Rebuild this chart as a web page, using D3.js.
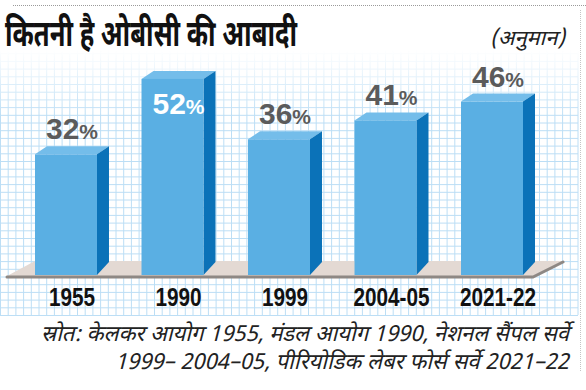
<!DOCTYPE html>
<html>
<head>
<meta charset="utf-8">
<script src="https://cdn.jsdelivr.net/npm/d3@7"></script>
<style>
  body { margin: 0; background: #fff; }
  svg { display: block; }
</style>
</head>
<body>
<div id="chart"></div>
<script>
// data
var categories = ["1955", "1990", "1999", "2004-05", "2021-22"];
var values = [32, 52, 36, 41, 46];
var title = "कितनी है ओबीसी की आबादी";
var note = "(अनुमान)";
var sourceLines = [
  "स्रोत: केलकर आयोग 1955, मंडल आयोग 1990, नेशनल सैंपल सर्वे",
  "1999– 2004–05, पीरियोडिक लेबर फोर्स सर्वे 2021–22"
];

var W = 586, H = 390;
var hindi = "'Noto Sans Devanagari', 'Noto Sans', 'DejaVu Sans', sans-serif";

var svg = d3.select("#chart")
  .append("svg")
  .attr("width", W)
  .attr("height", H);

var defs = svg.append("defs");
var grad = defs.append("linearGradient")
  .attr("id", "fade")
  .attr("x1", 0).attr("y1", 0).attr("x2", 0).attr("y2", 1);
grad.append("stop").attr("offset", "0").attr("stop-color", "#fff").attr("stop-opacity", 0);
grad.append("stop").attr("offset", "0.25").attr("stop-color", "#fff").attr("stop-opacity", 1);
grad.append("stop").attr("offset", "1").attr("stop-color", "#fff").attr("stop-opacity", 1);
defs.append("mask").attr("id", "gridMask")
  .append("rect")
  .attr("x", 0).attr("y", 50).attr("width", 580).attr("height", 266)
  .attr("fill", "url(#fade)");

// scales
var x = d3.scaleBand()
  .domain(categories)
  .range([35, 523])
  .paddingInner(0.418)
  .paddingOuter(0);
var y = d3.scaleLinear()
  .domain([0, 60])
  .range([275, 275 - 60 * 3.77]);

var bw = x.bandwidth();
var dx = 12, dy = 8;
var base = y(0);

// background grid
var grid = svg.append("g").attr("mask", "url(#gridMask)")
  .attr("stroke", "#bcdef5").attr("stroke-width", 1);
d3.range(0.5, 579, 7.7).forEach(function(gx) {
  grid.append("line").attr("x1", gx).attr("x2", gx).attr("y1", 50).attr("y2", 315);
});
d3.range(315.5, 50, -7.7).forEach(function(gy) {
  grid.append("line").attr("x1", 0).attr("x2", 578).attr("y1", gy).attr("y2", gy);
});

// dotted frame lines
svg.append("line")
  .attr("x1", 13).attr("x2", W).attr("y1", 5.5).attr("y2", 5.5)
  .attr("stroke", "#9a9a9a").attr("stroke-dasharray", "1,1");
svg.append("line")
  .attr("x1", 580.5).attr("x2", 580.5).attr("y1", 10).attr("y2", 372)
  .attr("stroke", "#c4c4c4").attr("stroke-dasharray", "1,1");

// floor
var r = x.range();
var fl = r[0] - 28, fr = r[1] + 10;
svg.append("polygon")
  .attr("points", [[fl, base + 1], [fr, base + 1], [fr + 30, base - 14], [fl + 28, base - 14]].join(" "))
  .attr("fill", "#e3d9d3");
svg.append("path")
  .attr("d", "M" + fl + "," + (base + 2) + "L" + fr + "," + (base + 2) + "L" + (fr + 30) + "," + (base - 13))
  .attr("fill", "none")
  .attr("stroke", "#8e8884")
  .attr("stroke-width", 3)
  .attr("stroke-linecap", "round");

// bars
var data = categories.map(function(c, i) { return { cat: c, val: values[i] }; });
var bars = svg.selectAll(".bar").data(data).enter().append("g").attr("class", "bar");

bars.append("polygon")
  .attr("points", function(d) {
    var x0 = x(d.cat), yt = y(d.val);
    return [[x0, yt], [x0 + bw, yt], [x0 + bw + dx, yt - dy], [x0 + dx, yt - dy]].join(" ");
  })
  .attr("fill", "#74bdea");

bars.append("polygon")
  .attr("points", function(d) {
    var x1 = x(d.cat) + bw, yt = y(d.val);
    return [[x1, yt], [x1 + dx, yt - dy], [x1 + dx, base - 13], [x1, base]].join(" ");
  })
  .attr("fill", "#0b72b8");

bars.append("rect")
  .attr("x", function(d) { return x(d.cat); })
  .attr("y", function(d) { return y(d.val); })
  .attr("width", bw)
  .attr("height", function(d) { return base - y(d.val); })
  .attr("fill", "#5aafe3");

// value labels
var maxVal = d3.max(values);
var lab = bars.append("text")
  .attr("x", function(d) { return x(d.cat) + (bw + dx) / 2; })
  .attr("y", function(d) { return d.val === maxVal ? y(d.val) + 35 : y(d.val) - 15; })
  .attr("text-anchor", "middle")
  .attr("font-family", "'Liberation Sans', Arial, sans-serif")
  .attr("font-weight", "bold")
  .attr("fill", function(d) { return d.val === maxVal ? "#fff" : "#5b5b5b"; });
lab.append("tspan").attr("font-size", 30).text(function(d) { return d.val; });
lab.append("tspan").attr("font-size", 21).text("%");

// category labels
bars.append("text")
  .attr("transform", function(d) { return "translate(" + (x(d.cat) + (bw + dx) / 2) + ",306) scale(0.83,1)"; })
  .attr("text-anchor", "middle")
  .attr("font-family", "'Liberation Sans', Arial, sans-serif")
  .attr("font-weight", "bold")
  .attr("font-size", 25)
  .attr("fill", "#111")
  .text(function(d) { return d.cat; });

// title
svg.append("text")
  .attr("x", 5).attr("y", 46)
  .attr("font-family", hindi)
  .attr("font-weight", "bold")
  .attr("font-size", 36)
  .attr("textLength", 292)
  .attr("lengthAdjust", "spacingAndGlyphs")
  .attr("fill", "#111")
  .text(title);

svg.append("text")
  .attr("x", 490).attr("y", 45)
  .attr("font-family", hindi)
  .attr("font-style", "italic")
  .attr("font-size", 21)
  .attr("textLength", 75)
  .attr("lengthAdjust", "spacingAndGlyphs")
  .attr("fill", "#222")
  .text(note);

// source
svg.selectAll(".src").data(sourceLines).enter().append("text")
  .attr("class", "src")
  .attr("x", 569)
  .attr("y", function(d, i) { return 341 + i * 28; })
  .attr("text-anchor", "end")
  .attr("font-family", hindi)
  .attr("font-style", "italic")
  .attr("font-size", 22)
  .attr("fill", "#222")
  .text(function(d) { return d; });
</script>
</body>
</html>
